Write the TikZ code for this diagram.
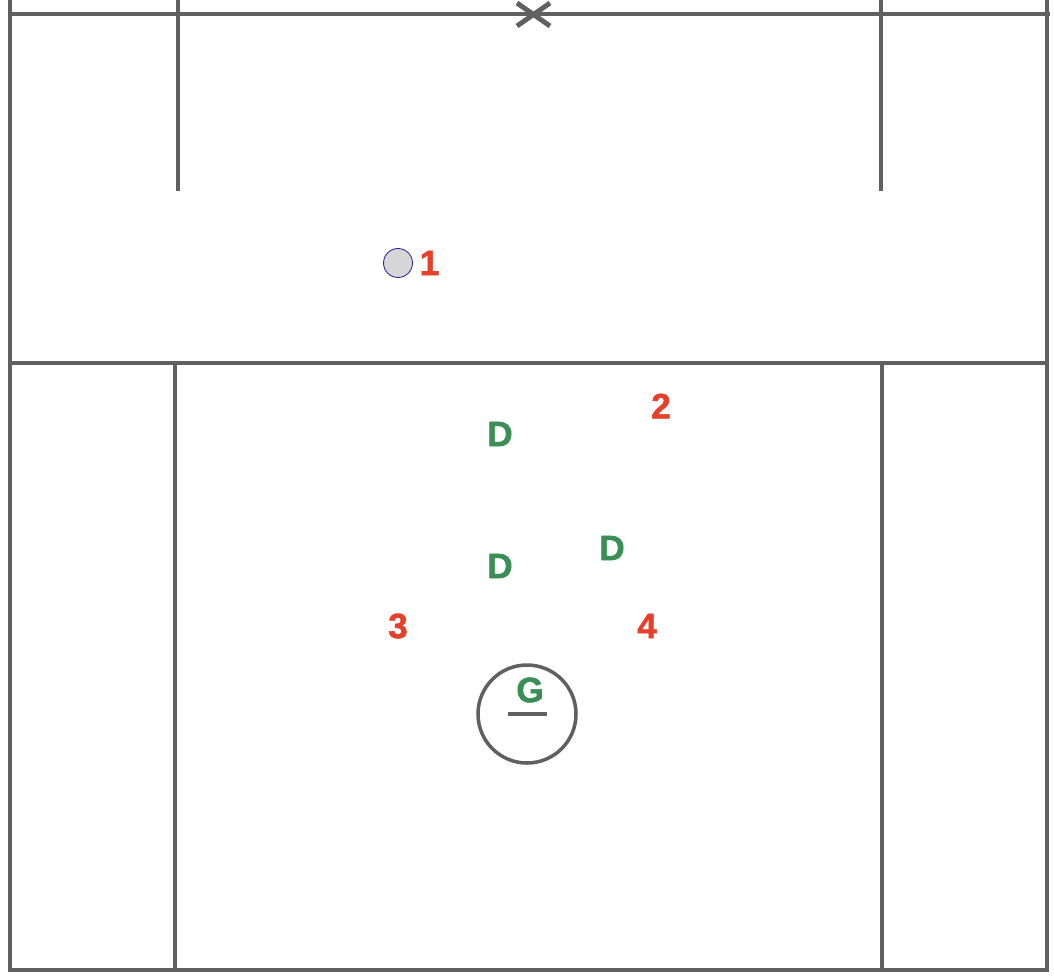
\documentclass[tikz,border=0pt]{standalone}
\usepackage{fontspec}
\newfontfamily\playerfont[BoldFont={Liberation Sans Bold},BoldFeatures={FakeBold=1.5}]{Liberation Sans}
\usepackage{tikz}
\usetikzlibrary{positioning}

\definecolor{fieldgray}{HTML}{606060}
\definecolor{offred}{HTML}{E5402A}
\definecolor{defgreen}{HTML}{3A8E56}
\definecolor{ballfill}{HTML}{D6D6D6}
\definecolor{ballrim}{HTML}{2B2A9C}

\begin{document}
\begin{tikzpicture}[x=0.02cm,y=-0.02cm,
                    line width=2pt]
  \tikzstyle{field}=[draw=fieldgray]
  \tikzstyle{attack}=[text=offred,font=\fontsize{20}{20}\playerfont\bfseries,inner sep=0pt]
  \tikzstyle{defend}=[text=defgreen,font=\fontsize{20}{20}\playerfont\bfseries,inner sep=0pt]

  \useasboundingbox (0,0) rectangle (1054,978);

  % field lines
  \draw[field] (10,0) -- (10,970) -- (1047,970) -- (1047,0);
  \draw[field] (8,14) -- (1050,14);
  \draw[field] (178,0) -- (178,191);
  \draw[field] (881,0) -- (881,191);
  \draw[field] (10,363) -- (1047,363);
  \draw[field] (175,970) -- (175,363) -- (882,363) -- (882,970);
  \draw[field,line width=2.8pt] (517,3) -- (550,26) (517,26) -- (550,3);

  % goal crease
  \draw[field] (527,714) circle (49);
  \draw[field,line width=2.6pt] (508,714) -- (547,714);

  % ball
  \node[circle,draw=ballrim,fill=ballfill,line width=0.5pt,minimum size=0.58cm,inner sep=0pt] (ball) at (398,263) {};

  % offence
  \node[attack] (o1) [right=0.1cm of ball] {1};
  \node[attack] (o2) at (661,406) {2};
  \node[attack] (o3) at (398,626) {3};
  \node[attack] (o4) at (647,626) {4};

  % defence
  \node[defend] (d1) at (500,434) {D};
  \node[defend] (d2) at (612,548) {D};
  \node[defend] (d3) at (500,566) {D};
  \node[defend] (g)  at (530,690) {G};
\end{tikzpicture}
\end{document}
